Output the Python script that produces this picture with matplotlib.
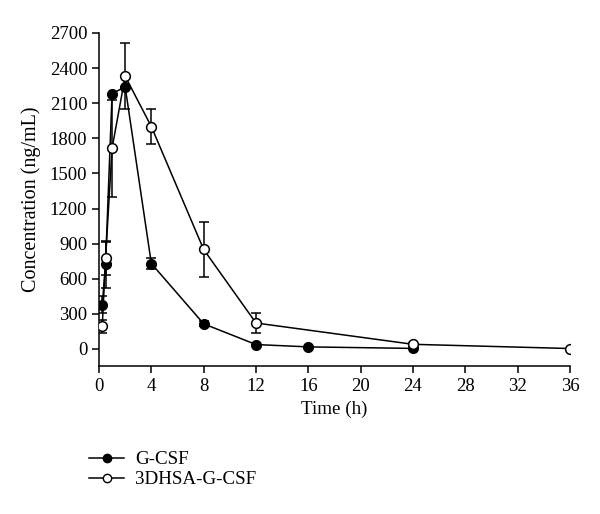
import matplotlib

matplotlib.use("Agg")
import matplotlib.pyplot as plt
from matplotlib.lines import Line2D

plt.rcParams["font.family"] = ["Liberation Serif", "DejaVu Serif"]

# time points (h)
time_gcsf = [0.25, 0.5, 1, 2, 4, 8, 12, 16, 24]
time_hsa = [0.25, 0.5, 1, 2, 4, 8, 12, 24, 36]

# mean concentration (ng/mL) and SD
conc_gcsf = [380, 722, 2180, 2240, 730, 215, 38, 18, 5]
err_gcsf = [75, 200, 0, 0, 50, 20, 0, 0, 0]
conc_hsa = [195, 775, 1715, 2330, 1900, 850, 222, 40, 4]
err_hsa = [55, 140, 413, 280, 150, 235, 85, 15, 0]

x_ticks = list(range(0, 37, 4))
y_ticks = list(range(0, 2701, 300))

fig = plt.figure(figsize=(6.0, 5.14), dpi=100)
ax = fig.add_axes([0.165, 0.288, 0.785, 0.648])

ax.errorbar(time_gcsf, conc_gcsf, yerr=err_gcsf, color="black", marker="o",
            markersize=7, markerfacecolor="black", markeredgecolor="black",
            linewidth=1.1, elinewidth=1.1, capsize=3.6, capthick=1.1, zorder=3)
ax.errorbar(time_hsa, conc_hsa, yerr=err_hsa, color="black", marker="o",
            markersize=7, markerfacecolor="white", markeredgecolor="black",
            markeredgewidth=1.1, linewidth=1.1, elinewidth=1.1, capsize=3.6,
            capthick=1.1, zorder=4)

ax.set_xlim(0, 36)
ax.set_ylim(-145, 2700)
ax.set_xticks(x_ticks)
ax.set_yticks(y_ticks)
ax.spines["top"].set_visible(False)
ax.spines["right"].set_visible(False)
for side in ("left", "bottom"):
    ax.spines[side].set_linewidth(1.1)
ax.tick_params(direction="out", length=5, width=1.1, labelsize=13.5)
ax.set_xlabel("Time (h)", fontsize=13.7, labelpad=4)
ax.set_ylabel("Concentration (ng/mL)", fontsize=14.5, labelpad=6)

handles = [
    Line2D([], [], color="black", marker="o", markersize=6, markerfacecolor="black",
           linewidth=1.1),
    Line2D([], [], color="black", marker="o", markersize=6, markerfacecolor="white",
           linewidth=1.1),
]
fig.legend(handles, ["G-CSF", "3DHSA-G-CSF"], loc="upper left",
           bbox_to_anchor=(0.13, 0.145), frameon=False, fontsize=13.7,
           handlelength=1.8, handletextpad=0.6, labelspacing=0.15,
           borderaxespad=0.2)

fig.savefig("out.png", dpi=100)
